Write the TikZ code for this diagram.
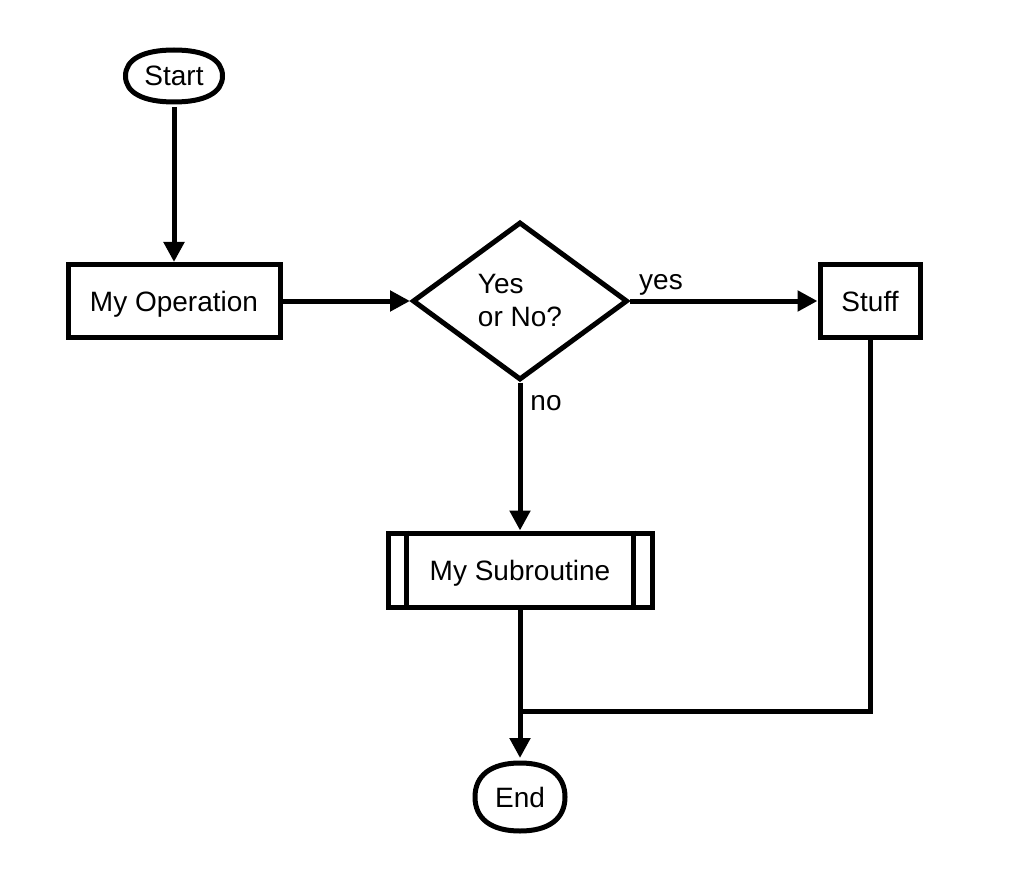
\documentclass[tikz,border=0pt]{standalone}
\usepackage{fontspec}
\setmainfont{Liberation Sans}
\usetikzlibrary{shapes.geometric,arrows.meta}
\newcommand\termsh[4]{%
  \draw[plain] (#1+#3,#2) .. controls (#1+#3,#2-0.64*#4) and (#1+0.64*#3,#2-#4) .. (#1,#2-#4)
    .. controls (#1-0.64*#3,#2-#4) and (#1-#3,#2-0.64*#4) .. (#1-#3,#2)
    .. controls (#1-#3,#2+0.64*#4) and (#1-0.64*#3,#2+#4) .. (#1,#2+#4)
    .. controls (#1+0.64*#3,#2+#4) and (#1+#3,#2+0.64*#4) .. cycle;}
\begin{document}
\begin{tikzpicture}[x=1pt,y=-1pt,
  every node/.style={font=\fontsize{28}{33}\selectfont, line width=5pt, inner sep=0pt, outer sep=2.5pt},
  capc/.style={text height=20pt, text depth=0pt},
  terminal/.style={draw=none, rectangle, capc},
  procbox/.style={draw, rectangle, capc},
  decision/.style={draw, diamond, align=left},
  lbl/.style={draw=none, outer sep=0pt},
  conn/.style={line width=5pt, -{Triangle[length=20pt,width=20pt]}},
  plain/.style={line width=5pt}]
\useasboundingbox (0,0) rectangle (1016,882);
\node[terminal, minimum width=102pt, minimum height=57pt] (start) at (174,76) {Start};
\termsh{174}{76}{48.5}{26}
\node[procbox, minimum width=212pt, minimum height=73pt] (op) at (174,301) {My Operation};
\node[decision, minimum width=215pt, minimum height=158pt] (dec) at (520,301) {Yes\\or No?};
\node[procbox, minimum width=100pt, minimum height=73pt] (stuff) at (870,301) {Stuff};
\node[procbox, minimum width=264pt, minimum height=74pt] (sub) at (520,570) {My Subroutine};
\draw[plain] ([xshift=21pt]sub.north west) -- ([xshift=21pt]sub.south west);
\draw[plain] ([xshift=-21pt]sub.north east) -- ([xshift=-21pt]sub.south east);
\node[terminal, minimum width=95pt, minimum height=73pt] (end) at (520,797) {End};
\termsh{520}{797}{45}{34}
\coordinate (join) at (520,711);
\node[lbl] (yes) at (661,285) {yes};
\node[lbl] (no) at (546,403) {no};
\draw[conn] (start) -- (op);
\draw[conn] (op) -- (dec);
\draw[conn] (dec.east) -- (stuff);
\draw[conn] (dec.south) -- (sub);
\draw[conn] (sub) -- (end);
\draw[plain] (stuff.south) |- (join);
\end{tikzpicture}
\end{document}
